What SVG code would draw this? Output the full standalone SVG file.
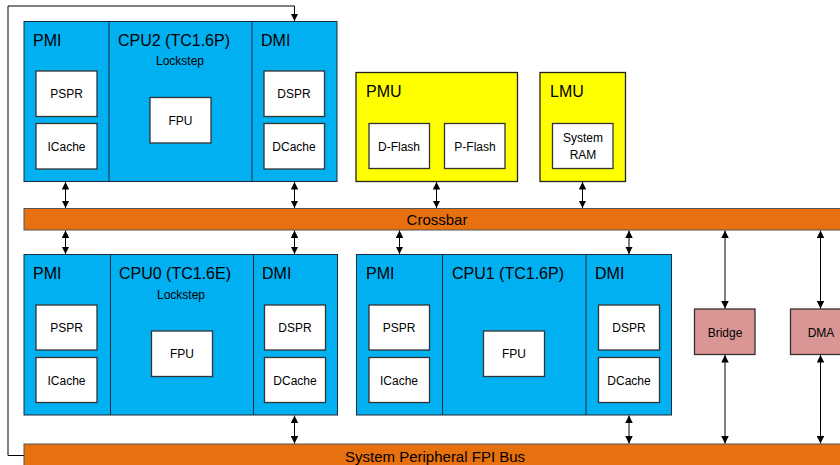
<svg xmlns="http://www.w3.org/2000/svg" width="840" height="465" viewBox="0 0 840 465">
<style>
text{font-family:"Liberation Sans",Arial,sans-serif;fill:#000}
.cpu{fill:#00B0F0;stroke:#1a2a3a;stroke-width:1}
.div{stroke:#1a2a3a;stroke-width:1}
.box{fill:#fff;stroke:#333;stroke-width:1.3}
.mem{fill:#FFFF00;stroke:#222;stroke-width:1.3}
.per{fill:#D99694;stroke:#333;stroke-width:1.3}
.bus{fill:#E8710F;stroke:#555;stroke-width:1}
.lbl{font-size:16px}
.sm{font-size:12px;text-anchor:middle}
.ls{font-size:12px;text-anchor:middle}
.cl{font-size:16px;text-anchor:middle}
.bt{font-size:15px}
.cn{stroke:#000;stroke-width:1;fill:none}
</style>
<defs>
<marker id="ah" viewBox="0 0 10 10" refX="10" refY="5" markerWidth="7.5" markerHeight="7.5" markerUnits="userSpaceOnUse" orient="auto-start-reverse">
<path d="M0,0 L10,5 L0,10 z" fill="#000"/>
</marker>
</defs>

<g id="crossbar">
<rect class="bus" x="24" y="208.5" width="830" height="21.5"/>
<text class="bt" x="437" y="225" text-anchor="middle">Crossbar</text>
</g>
<g id="fpibus">
<rect class="bus" x="24" y="444" width="830" height="30"/>
<text class="bt" x="345" y="462">System Peripheral FPI Bus</text>
</g>

<g id="cpu2">
<rect class="cpu" x="24" y="21.5" width="313" height="160"/>
<line class="div" x1="109" y1="21.5" x2="109" y2="181.5"/>
<line class="div" x1="252" y1="21.5" x2="252" y2="181.5"/>
<text class="lbl" x="33" y="46">PMI</text>
<text class="cl" x="174" y="46">CPU2 (TC1.6P)</text>
<text class="ls" x="180" y="65">Lockstep</text>
<text class="lbl" x="261" y="46">DMI</text>
<rect class="box" x="36" y="71" width="61" height="45.5"/>
<text class="sm" x="66.5" y="98">PSPR</text>
<rect class="box" x="36" y="123.5" width="61" height="45.5"/>
<text class="sm" x="66.5" y="150.5">ICache</text>
<rect class="box" x="150" y="97.5" width="61" height="45.5"/>
<text class="sm" x="180.5" y="124.5">FPU</text>
<rect class="box" x="264" y="71" width="60.5" height="45.5"/>
<text class="sm" x="294" y="98">DSPR</text>
<rect class="box" x="264" y="123.5" width="60.5" height="45.5"/>
<text class="sm" x="294" y="150.5">DCache</text>
</g>

<g id="pmu">
<rect class="mem" x="356" y="72.5" width="161.5" height="109"/>
<text class="lbl" x="366" y="97">PMU</text>
<rect class="box" x="369" y="123.5" width="60.5" height="45"/>
<text class="sm" x="399" y="150.5">D-Flash</text>
<rect class="box" x="444.5" y="123.5" width="60.5" height="45"/>
<text class="sm" x="475" y="150.5">P-Flash</text>
</g>

<g id="lmu">
<rect class="mem" x="540" y="72.5" width="85.5" height="109"/>
<text class="lbl" x="550" y="97">LMU</text>
<rect class="box" x="552.5" y="123.5" width="60.5" height="45"/>
<text class="sm" x="583" y="142">System</text>
<text class="sm" x="583" y="159">RAM</text>
</g>

<g id="cpu0">
<rect class="cpu" x="24" y="254.5" width="313.5" height="160.5"/>
<line class="div" x1="110.5" y1="254.5" x2="110.5" y2="415"/>
<line class="div" x1="253.5" y1="254.5" x2="253.5" y2="415"/>
<text class="lbl" x="33" y="279">PMI</text>
<text class="cl" x="175" y="279">CPU0 (TC1.6E)</text>
<text class="ls" x="181" y="298.5">Lockstep</text>
<text class="lbl" x="262" y="279">DMI</text>
<rect class="box" x="36" y="305" width="61" height="45"/>
<text class="sm" x="66.5" y="332">PSPR</text>
<rect class="box" x="36" y="357.5" width="61" height="45"/>
<text class="sm" x="66.5" y="384.5">ICache</text>
<rect class="box" x="151.5" y="331" width="61" height="45.5"/>
<text class="sm" x="182" y="358">FPU</text>
<rect class="box" x="264.5" y="305" width="61" height="45"/>
<text class="sm" x="295" y="332">DSPR</text>
<rect class="box" x="264.5" y="357.5" width="61" height="45"/>
<text class="sm" x="295" y="384.5">DCache</text>
</g>

<g id="cpu1">
<rect class="cpu" x="356.5" y="254.5" width="315" height="160.5"/>
<line class="div" x1="442.5" y1="254.5" x2="442.5" y2="415"/>
<line class="div" x1="586" y1="254.5" x2="586" y2="415"/>
<text class="lbl" x="366" y="279">PMI</text>
<text class="cl" x="508" y="279">CPU1 (TC1.6P)</text>
<text class="lbl" x="595" y="279">DMI</text>
<rect class="box" x="369" y="305" width="60.5" height="45"/>
<text class="sm" x="399" y="332">PSPR</text>
<rect class="box" x="369" y="357.5" width="60.5" height="45"/>
<text class="sm" x="399" y="384.5">ICache</text>
<rect class="box" x="483.5" y="331" width="61" height="45.5"/>
<text class="sm" x="514" y="358">FPU</text>
<rect class="box" x="598.5" y="305" width="61" height="45"/>
<text class="sm" x="629" y="332">DSPR</text>
<rect class="box" x="598.5" y="357.5" width="61" height="45"/>
<text class="sm" x="629" y="384.5">DCache</text>
</g>

<g id="bridge">
<rect class="per" x="694.5" y="309" width="60.5" height="45.5"/>
<text class="sm" x="725" y="336.5">Bridge</text>
</g>
<g id="dma">
<rect class="per" x="790.5" y="309" width="61" height="45.5"/>
<text class="sm" x="821" y="336.5">DMA</text>
</g>

<g id="connectors">
<polyline class="cn" points="24,455.5 8,455.5 8,6 294.5,6 294.5,21" marker-end="url(#ah)"/>
<line class="cn" x1="65.5" y1="182" x2="65.5" y2="208" marker-start="url(#ah)" marker-end="url(#ah)"/>
<line class="cn" x1="294.5" y1="182" x2="294.5" y2="208" marker-start="url(#ah)" marker-end="url(#ah)"/>
<line class="cn" x1="436.5" y1="182" x2="436.5" y2="208" marker-start="url(#ah)" marker-end="url(#ah)"/>
<line class="cn" x1="582.5" y1="182" x2="582.5" y2="208" marker-start="url(#ah)" marker-end="url(#ah)"/>
<line class="cn" x1="65.5" y1="230.5" x2="65.5" y2="254" marker-start="url(#ah)" marker-end="url(#ah)"/>
<line class="cn" x1="294.5" y1="230.5" x2="294.5" y2="254" marker-start="url(#ah)" marker-end="url(#ah)"/>
<line class="cn" x1="399.5" y1="230.5" x2="399.5" y2="254" marker-start="url(#ah)" marker-end="url(#ah)"/>
<line class="cn" x1="629" y1="230.5" x2="629" y2="254" marker-start="url(#ah)" marker-end="url(#ah)"/>
<line class="cn" x1="725" y1="230.5" x2="725" y2="308.5" marker-start="url(#ah)" marker-end="url(#ah)"/>
<line class="cn" x1="820.5" y1="230.5" x2="820.5" y2="308.5" marker-start="url(#ah)" marker-end="url(#ah)"/>
<line class="cn" x1="294.5" y1="415.5" x2="294.5" y2="443.5" marker-start="url(#ah)" marker-end="url(#ah)"/>
<line class="cn" x1="629" y1="415.5" x2="629" y2="443.5" marker-start="url(#ah)" marker-end="url(#ah)"/>
<line class="cn" x1="725" y1="355" x2="725" y2="443.5" marker-start="url(#ah)" marker-end="url(#ah)"/>
<line class="cn" x1="820.5" y1="355" x2="820.5" y2="443.5" marker-start="url(#ah)" marker-end="url(#ah)"/>
</g>
</svg>
